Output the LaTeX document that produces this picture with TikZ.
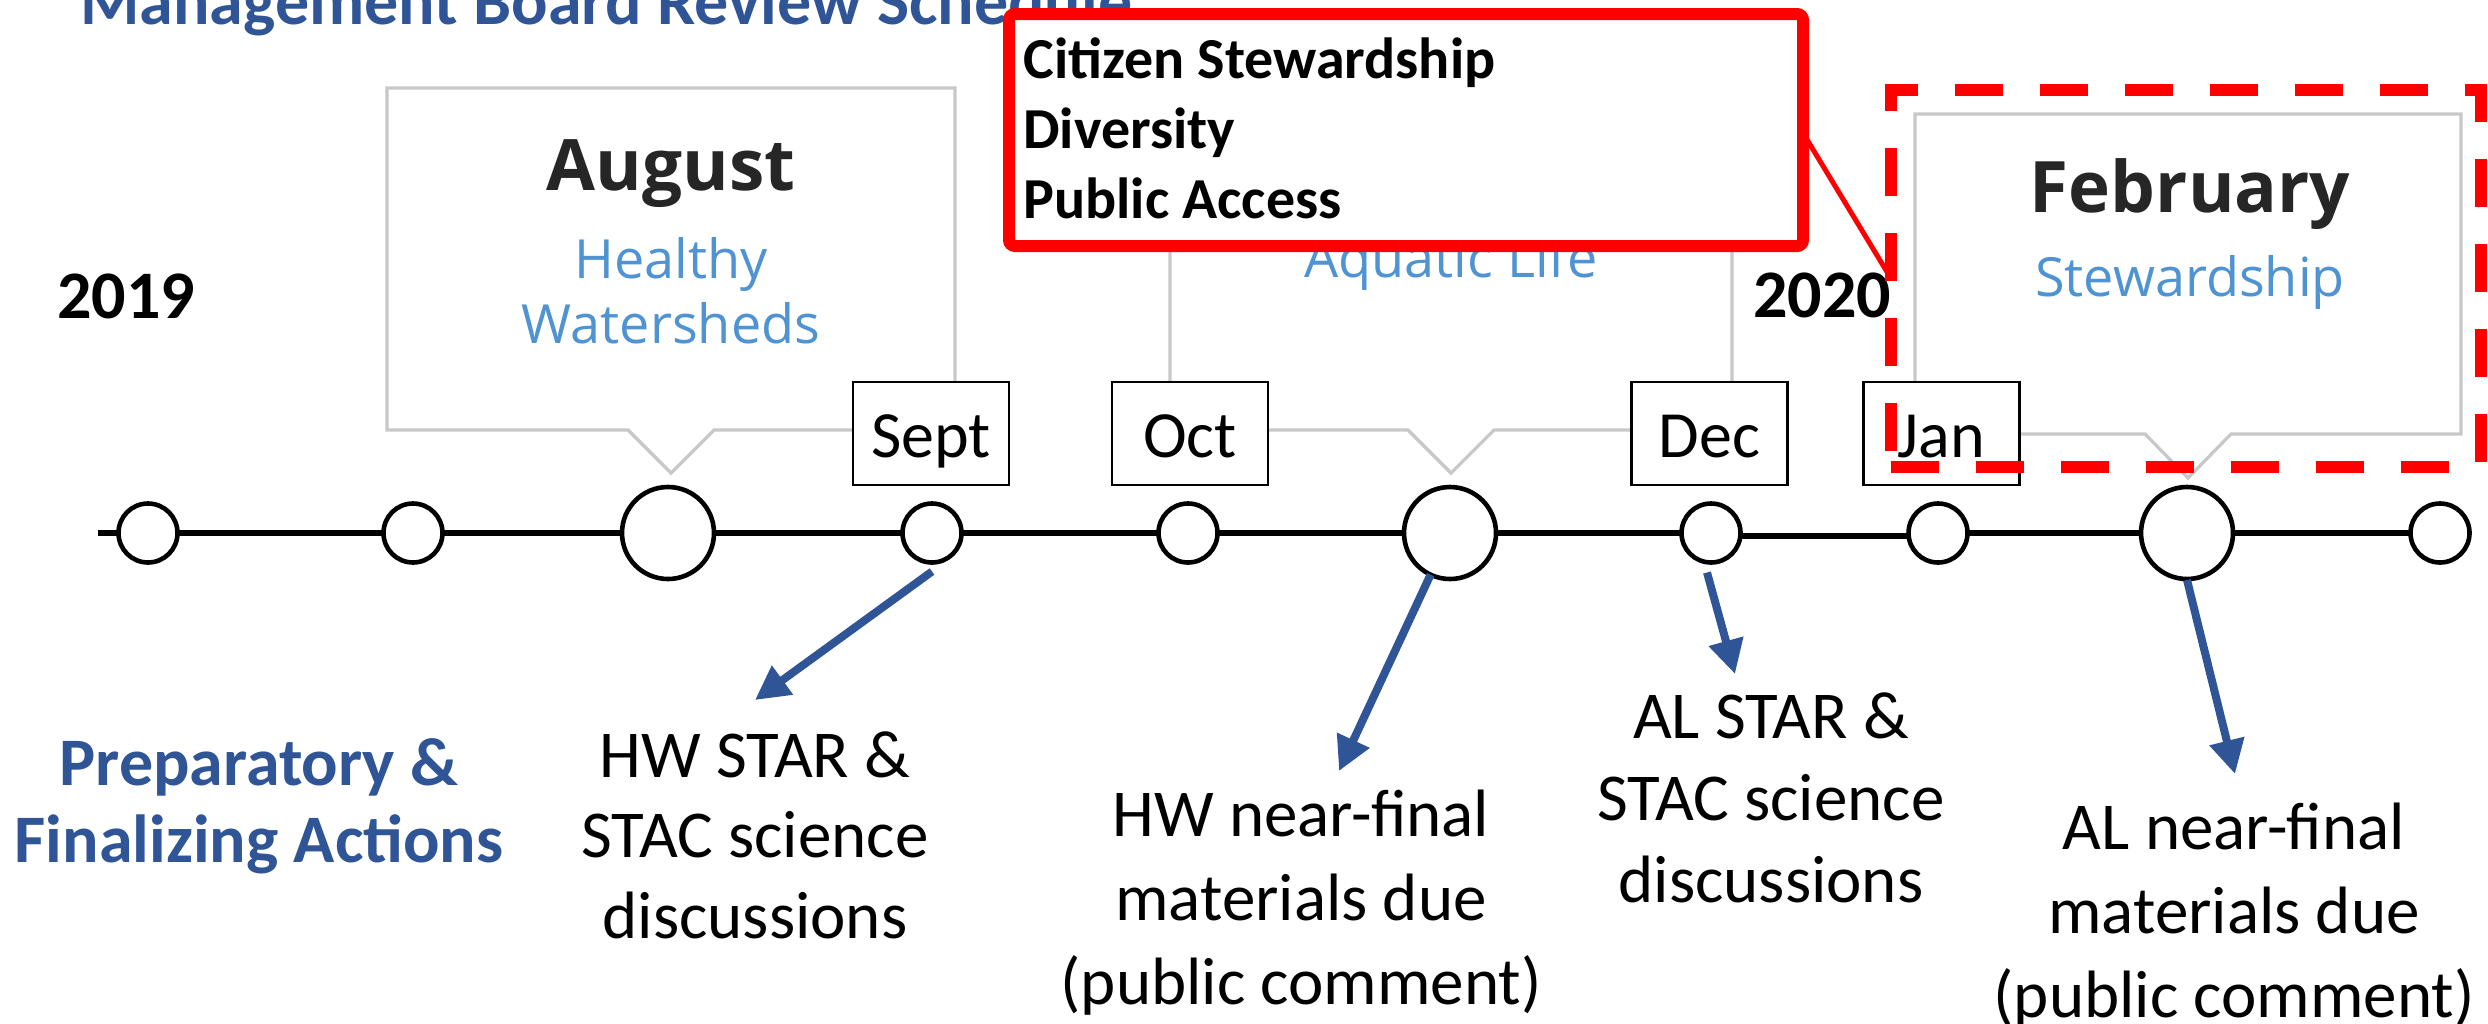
\documentclass[tikz,border=0pt]{standalone}
\usepackage{fontspec}
\setmainfont{Carlito}
\newfontfamily\segoe{Open Sans}
\usetikzlibrary{arrows.meta}
\definecolor{pptblue}{HTML}{2F5597}
\definecolor{popblue}{HTML}{4F93D2}
\definecolor{popdark}{HTML}{262626}
\definecolor{popgray}{HTML}{C8C8C8}
\definecolor{pptred}{HTML}{FF0000}
\newcommand{\mystack}[3]{{\fontsize{#1}{#2}\selectfont\begin{tabular}[t]{@{}c@{}}#3\end{tabular}}}
\tikzset{
  popbox/.style={draw=popgray, line width=1.6pt, fill=white, line join=miter},
  monthbox/.style={draw=black, line width=1.1pt, fill=white, inner sep=0pt, outer sep=0pt,
    minimum width=78pt, minimum height=51.5pt, text height=23.5pt, text depth=0pt,
    font=\fontsize{33}{40}\selectfont},
  dot/.style={circle, draw=black, line width=2.3pt, fill=white, inner sep=0pt, outer sep=0pt, minimum size=29.5pt},
  bigdot/.style={dot, minimum size=46pt},
  txt/.style={inner sep=0pt, anchor=base},
  poptitle/.style={txt, text=popdark, font=\segoe\bfseries\fontsize{35.5}{40}\selectfont},
  popsub/.style={txt, text=popblue, font=\segoe\fontsize{27}{32.5}\selectfont},
  yearlbl/.style={inner sep=0pt, anchor=base west, font=\bfseries\fontsize{34}{40}\selectfont},
  actarrow/.style={draw=pptblue, line width=4pt, -{Triangle[length=17pt,width=17pt]}},
  timeline/.style={draw=black, line width=3pt},
}
\begin{document}
\begin{tikzpicture}[x=0.5pt, y=-0.5pt]
\useasboundingbox (0,0) rectangle (2488,1023);
\clip (0,0) rectangle (2488,1023);
\fill[white] (0,0) rectangle (2488,1023);

% title
\node[inner sep=0pt, anchor=base west, text=pptblue, font=\bfseries\fontsize{34}{40}\selectfont] (title) at (80,24) {Management Board Review Schedule};

% pop-up callouts
\draw[popbox] (387,88) -- (955,88) -- (955,430) -- (714,430) -- (671,473) -- (628,430) -- (387,430) -- cycle;
\draw[popbox] (1170,88) -- (1732,88) -- (1732,430) -- (1494,430) -- (1451,473) -- (1408,430) -- (1170,430) -- cycle;
\draw[popbox] (1915,114) -- (2461,114) -- (2461,434) -- (2231,434) -- (2188,478) -- (2145,434) -- (1915,434) -- cycle;

\node[poptitle] (augT) at (671,190) {August};
\node[popsub] (augS) at (671,278) {\mystack{27}{32.5}{Healthy\\Watersheds}};
\node[popsub] (aqS) at (1451,277) {Aquatic Life};
\node[poptitle] (febT) at (2190,212) {February};
\node[popsub] (febS) at (2190,296) {Stewardship};

% years
\node[yearlbl] (y2019) at (57,318) {2019};
\node[yearlbl] (y2020) at (1753,317) {2020};

% month labels
\node[monthbox] (sept) at (931,433.5) {Sept};
\node[monthbox] (oct) at (1190,433.5) {Oct};
\node[monthbox] (dec) at (1709.5,433.5) {Dec};
\node[monthbox] (jan) at (1941.5,433.5) {Jan};

% timeline
\coordinate (lstart) at (98,533);
\node[dot] (c1) at (148,533) {};
\node[dot] (c2) at (413,533) {};
\node[bigdot] (c3) at (668,533) {};
\node[dot] (c4) at (932,533) {};
\node[dot] (c5) at (1188,533) {};
\node[bigdot] (c6) at (1450,533) {};
\node[dot] (c7) at (1711,533) {};
\node[dot] (c8) at (1938,533) {};
\node[bigdot] (c9) at (2187,533) {};
\node[dot] (c10) at (2440,533) {};
\draw[timeline] (lstart) -- (c1);
\draw[timeline] (c1) -- (c2);
\draw[timeline] (c2) -- (c3);
\draw[timeline] (c3) -- (c4);
\draw[timeline] (c4) -- (c5);
\draw[timeline] (c5) -- (c6);
\draw[timeline] (c6) -- (c7);
\draw[timeline] ([yshift=-1.5pt]c7.east) -- ([yshift=-1.5pt]c8.west);
\draw[timeline] (c8) -- (c9);
\draw[timeline] (c9) -- (c10);

% actions
\node[txt, text=pptblue, font=\bfseries] (prep) at (259,785) {\mystack{34}{38.5}{Preparatory \&\\Finalizing Actions}};
\node[txt] (a1) at (755,777) {\mystack{33.5}{40.25}{HW STAR \&\\STAC science\\discussions}};
\node[txt] (a2) at (1301,836) {\mystack{33.5}{42}{HW near-final\\materials due\\(public comment)}};
\node[txt] (a3) at (1771,738) {\mystack{33.5}{41}{AL STAR \&\\STAC science\\discussions}};
\node[txt] (a4) at (2234,849) {\mystack{33.5}{42}{AL near-final\\materials due\\(public comment)}};

\coordinate (e1) at (755,700);
\coordinate (e2) at (1339,771);
\coordinate (e3) at (1735,674);
\coordinate (e4) at (2235,774);
\draw[actarrow] ([yshift=-4.5pt]c4.south) -- (e1);
\draw[actarrow] (c6) -- (e2);
\draw[actarrow] ([xshift=-2pt,yshift=-5pt]c7.south) -- (e3);
\draw[actarrow] ([yshift=-0.5pt]c9.south) -- (e4);

% red highlight
\node[draw=pptred, line width=6pt, dash pattern=on 24pt off 18.5pt, minimum width=295pt, minimum height=188.5pt, inner sep=0pt, outer sep=0pt] (focus) at (2186,278.5) {};
\node[draw=pptred, line width=6pt, fill=white, rounded corners=3pt, minimum width=397pt, minimum height=116pt, inner sep=0pt, outer sep=0pt] (callout) at (1406,130) {};
\node[inner sep=0pt, anchor=base west, font=\bfseries] (calltxt) at (1023,78) {{\fontsize{29}{35}\selectfont\begin{tabular}[t]{@{}l@{}}Citizen Stewardship\\Diversity\\Public Access\end{tabular}}};
\draw[pptred, line width=2.5pt] ([yshift=-1.5pt]callout.east) -- (focus.west);
\end{tikzpicture}
\end{document}
